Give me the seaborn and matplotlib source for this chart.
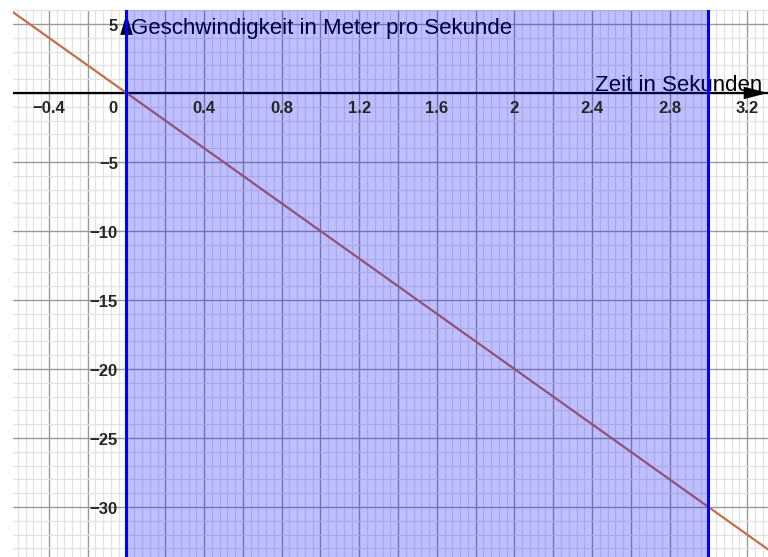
import numpy as np
import pandas as pd
import matplotlib
matplotlib.use("Agg")
import matplotlib.pyplot as plt
from matplotlib.ticker import MultipleLocator
import seaborn as sns

# data ------------------------------------------------------------------
line_t = [-0.6, 3.4]          # Zeit in Sekunden
line_v = [6.0, -34.0]         # Geschwindigkeit in m/s
region_start = 0.0
region_end = 3.0

x_ticks = [-0.4, 0.4, 0.8, 1.2, 1.6, 2.0, 2.4, 2.8, 3.2]
x_tick_labels = ["\u22120.4", "0.4", "0.8", "1.2", "1.6", "2", "2.4", "2.8", "3.2"]
y_ticks = [5, -5, -10, -15, -20, -25, -30]
y_tick_labels = ["5", "\u22125", "\u221210", "\u221215", "\u221220", "\u221225", "\u221230"]

x_label = "Zeit in Sekunden"
y_label = "Geschwindigkeit in Meter pro Sekunde"

# view -------------------------------------------------------------------
x_min, x_max = -0.585, 3.307
y_min, y_max = -33.62, 6.01

sns.set_style("white")
plt.rcParams['font.family'] = ['Liberation Sans', 'DejaVu Sans']

fig = plt.figure(figsize=(7.68, 5.57), dpi=100)
ax = fig.add_axes([13 / 768, 0, 755 / 768, 547 / 557])
ax.set_xlim(x_min, x_max)
ax.set_ylim(y_min, y_max)
for s in ax.spines.values():
    s.set_visible(False)

# grid
ax.xaxis.set_major_locator(MultipleLocator(0.2))
ax.xaxis.set_minor_locator(MultipleLocator(0.04))
ax.yaxis.set_major_locator(MultipleLocator(5))
ax.yaxis.set_minor_locator(MultipleLocator(1))
ax.grid(which='major', color='#9a9a9a', linewidth=1.0, zorder=0)
ax.grid(which='minor', color='#e2e2e2', linewidth=0.9, zorder=0)
ax.set_axisbelow(True)
ax.tick_params(which='both', length=0, labelbottom=False, labelleft=False)

# x axis line + arrows
ax.axhline(0, color='black', linewidth=1.6, zorder=2)
ax.annotate('', xy=(x_max, 0), xytext=(x_max - 0.4, 0),
            arrowprops=dict(arrowstyle='-|>,head_length=1.75,head_width=0.45',
                            color='black', lw=0, shrinkA=0, shrinkB=0), zorder=3)
ax.annotate('', xy=(0, 5.72), xytext=(0, 1.0),
            arrowprops=dict(arrowstyle='-|>,head_length=1.5,head_width=0.45',
                            color='black', lw=0, shrinkA=0, shrinkB=0), zorder=3)

# velocity line
df = pd.DataFrame({'t': line_t, 'v': line_v})
sns.lineplot(data=df, x='t', y='v', color='#c0704a', linewidth=1.6, ax=ax, zorder=3)
ax.set_xlabel('')
ax.set_ylabel('')

# axis labels (drawn under the shading like the original)
ax.text(0.025, 4.7, y_label, fontsize=16, color='black', ha='left', va='center', zorder=3)
ax.text(3.278, 0.55, x_label, fontsize=16, color='black', ha='right', va='center', zorder=3)

# shaded region
ax.axvspan(region_start, region_end, color='#0000ff', alpha=0.25, linewidth=0, zorder=4)
ax.axvline(region_start, color='#0000ff', linewidth=2.2, zorder=5)
ax.axvline(region_end, color='#0000ff', linewidth=2.2, zorder=5)

# tick labels, GeoGebra style next to the axes
for xv, lab in zip(x_ticks, x_tick_labels):
    ax.text(xv, -1.15, lab, fontsize=12, fontweight='bold', ha='center', va='center', zorder=6)
ax.text(-0.044, -1.15, "0", fontsize=12, fontweight='bold', ha='right', va='center', zorder=6)
for yv, lab in zip(y_ticks, y_tick_labels):
    ax.text(-0.044, yv - 0.2, lab, fontsize=12, fontweight='bold', ha='right', va='center', zorder=6)

fig.savefig("out.png", dpi=100)
